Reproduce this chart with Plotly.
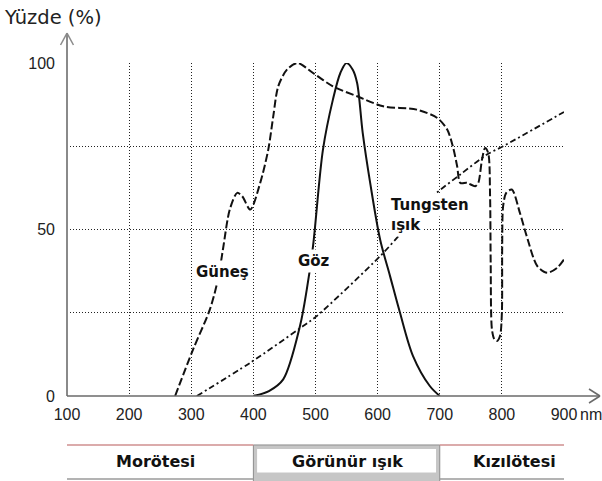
import plotly.graph_objects as go

# Axis ticks
wavelength_ticks = [100, 200, 300, 400, 500, 600, 700, 800, 900]
wavelength_tick_text = ["100", "200", "300", "400", "500", "600", "700", "800", "900"]
percent_ticks = [0, 25, 50, 75, 100]
percent_tick_text = ["0", "", "50", "", "100"]

# Solar spectrum (Güneş), relative %
sun_nm = [274, 303, 330, 343, 351, 362, 374, 382, 395, 411, 424, 432, 440, 454, 471,
          496, 528, 567, 609, 663, 696, 712, 721, 728, 733, 744, 757, 762, 768, 773,
          778, 781, 782, 784, 788, 792, 797, 800, 800.5, 802, 807, 816, 829, 840, 857,
          873, 889, 900]
sun_pct = [0, 14, 26, 35, 44, 56, 61, 60, 56, 64, 74, 84, 93, 98, 100,
           97, 93, 90, 87, 86, 83.5, 80, 75, 69, 64, 64, 63, 64, 71, 74.5,
           73, 60, 40, 20, 17, 16.5, 18, 25, 45, 57, 61, 62, 55, 48, 39,
           37, 38.5, 41]

# Eye sensitivity (Göz), relative %
eye_nm = [400, 425, 448, 475, 486, 496, 512, 528, 540, 550, 560, 567, 576, 588, 604,
          620, 636, 657, 684, 700]
eye_pct = [0, 1.5, 5, 21, 32, 45, 74, 89, 97, 100, 98, 94, 79, 64, 47,
           36, 25, 12, 3, 0]

# Tungsten lamp emission (Tungsten ışık), relative %
tungsten_nm = [309, 395, 480, 502, 604, 636, 689, 733, 776, 802, 900]
tungsten_pct = [0, 10, 21, 24, 42, 48.5, 60, 66.5, 72.5, 75, 85.3]

# Spectral regions shown under the axis
band_names = ["Morötesi", "Görünür ışık", "Kızılötesi"]
band_start = [100, 400, 700]
band_end = [400, 700, 900]
band_label_x = [242, 551, 820]

INK = "#111111"
LABEL_FONT = dict(family="DejaVu Sans", size=15, color=INK)
BAND_FONT = dict(family="DejaVu Sans", size=16, color=INK)
TICK_FONT = dict(family="Liberation Sans, Arial", size=16, color="#222222")

fig = go.Figure()

fig.add_trace(go.Scatter(
    x=sun_nm, y=sun_pct, mode="lines",
    line=dict(color=INK, width=2, dash="8px,3px", shape="spline", smoothing=0.8),
    hoverinfo="skip", showlegend=False,
))
fig.add_trace(go.Scatter(
    x=eye_nm, y=eye_pct, mode="lines",
    line=dict(color=INK, width=2, shape="spline", smoothing=0.9),
    hoverinfo="skip", showlegend=False,
))
fig.add_trace(go.Scatter(
    x=tungsten_nm, y=tungsten_pct, mode="lines",
    line=dict(color=INK, width=1.8, dash="6px,3px,2px,3px", shape="spline", smoothing=0.8),
    hoverinfo="skip", showlegend=False,
))

# Curve labels on white boxes
curve_labels = [
    ("<b>Güneş</b>", 350, 37.2, "center"),
    ("<b>Göz</b>", 497, 40.5, "center"),
    ("<b>Tungsten</b>", 617, 57.5, "left"),
    ("<b>ışık</b>", 617, 51.5, "left"),
]
annotations = []
for text, xv, yv, anchor in curve_labels:
    annotations.append(dict(
        x=xv, y=yv, xref="x", yref="y", text=text, showarrow=False,
        xanchor=anchor, yanchor="middle", font=LABEL_FONT,
        bgcolor="white", borderpad=2,
    ))

# Axis title and unit
annotations.append(dict(
    x=-0.131, y=1.138, xref="paper", yref="paper", text="Yüzde (%)",
    showarrow=False, xanchor="left", yanchor="middle",
    font=dict(family="DejaVu Sans", size=19.5, color="#222222"),
))
annotations.append(dict(
    x=1.029, y=-0.057, xref="paper", yref="paper", text="nm",
    showarrow=False, xanchor="left", yanchor="middle", font=TICK_FONT,
))

# Region labels
for name, xv in zip(band_names, band_label_x):
    annotations.append(dict(
        x=xv, y=-0.198, xref="x", yref="paper", text=f"<b>{name}</b>",
        showarrow=False, xanchor="center", yanchor="middle", font=BAND_FONT,
    ))

shapes = []
# Axis lines with arrow heads
axis_col = "#6a6a6a"
shapes += [
    dict(type="line", xref="paper", yref="paper", x0=0, y0=0, x1=0, y1=1.09,
         line=dict(color="#8a8a8a", width=2), layer="above"),
    dict(type="line", xref="paper", yref="paper", x0=-0.013, y0=1.054, x1=0, y1=1.09,
         line=dict(color="#8a8a8a", width=1.5)),
    dict(type="line", xref="paper", yref="paper", x0=0.013, y0=1.054, x1=0, y1=1.09,
         line=dict(color="#8a8a8a", width=1.5)),
    dict(type="line", xref="paper", yref="paper", x0=0, y0=0, x1=1.0724, y1=0,
         line=dict(color=axis_col, width=1.5), layer="above"),
    dict(type="line", xref="paper", yref="paper", x0=1.0503, y0=0.021, x1=1.0724, y1=0,
         line=dict(color=axis_col, width=1.5)),
    dict(type="line", xref="paper", yref="paper", x0=1.0503, y0=-0.021, x1=1.0724, y1=0,
         line=dict(color=axis_col, width=1.5)),
]

# Region strip
band_top, band_bottom = -0.1471, -0.2492
for i, name in enumerate(band_names):
    x0, x1 = band_start[i], band_end[i]
    if i == 1:
        shapes.append(dict(type="rect", xref="x", yref="paper", x0=x0, x1=x1,
                           y0=-0.26, y1=band_top, fillcolor="#c6c6c6",
                           line=dict(color="#8c8c8c", width=1), layer="below"))
        shapes.append(dict(type="rect", xref="x", yref="paper", x0=x0 + 6, x1=x1 - 6,
                           y0=-0.23, y1=band_top - 0.012, fillcolor="white",
                           line=dict(width=0), layer="below"))
    else:
        shapes.append(dict(type="line", xref="x", yref="paper", x0=x0, x1=x1,
                           y0=band_top, y1=band_top,
                           line=dict(color="#cf8f8f", width=1.5)))
        shapes.append(dict(type="line", xref="x", yref="paper", x0=x0, x1=x1,
                           y0=band_bottom, y1=band_bottom,
                           line=dict(color="#9a9a9a", width=1.5)))

fig.update_layout(
    width=602, height=481,
    margin=dict(l=67, r=38, t=63, b=85, pad=0),
    paper_bgcolor="white", plot_bgcolor="white",
    annotations=annotations, shapes=shapes,
    showlegend=False,
    xaxis=dict(
        range=[100, 900], tickmode="array", tickvals=wavelength_ticks,
        ticktext=wavelength_tick_text, showgrid=True, gridcolor="#222222",
        gridwidth=1, griddash="1px,2px", zeroline=False, showline=False,
        ticks="", tickfont=TICK_FONT, ticklabelstandoff=7,
    ),
    yaxis=dict(
        range=[0, 100], tickmode="array", tickvals=percent_ticks,
        ticktext=percent_tick_text, showgrid=True, gridcolor="#222222",
        gridwidth=1, griddash="1px,2px", zeroline=False, showline=False,
        ticks="", tickfont=TICK_FONT, ticklabelstandoff=11,
    ),
)

fig.write_html("out.html")
